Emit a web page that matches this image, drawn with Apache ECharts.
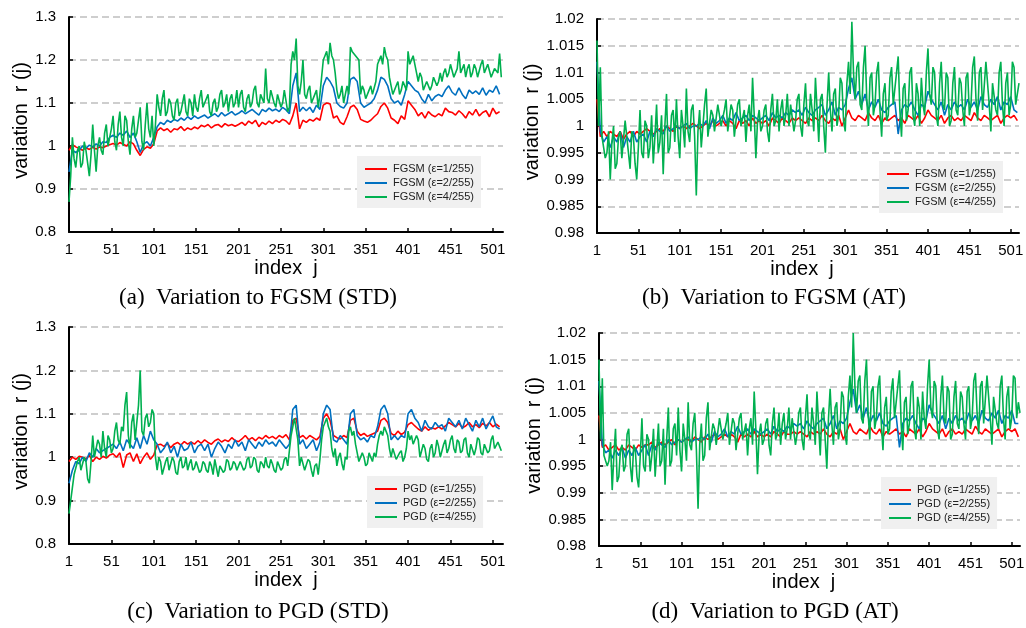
<!DOCTYPE html>
<html><head><meta charset="utf-8">
<script src="https://cdn.jsdelivr.net/npm/echarts@6/dist/echarts.min.js"></script>
<style>html,body{margin:0;padding:0;background:#fff}#c{width:1026px;height:628px}</style>
</head><body><div id="c"></div><script>
// sample spacing of index j: value k of a series is at j = 1 + k*step
const STEP_SMOOTH = 4;   // red / blue series
const STEP_NOISY = 2;    // green series
const namesFGSM = ['FGSM (ε=1/255)', 'FGSM (ε=2/255)', 'FGSM (ε=4/255)'];
const namesPGD = ['PGD (ε=1/255)', 'PGD (ε=2/255)', 'PGD (ε=4/255)'];
const captions = ['(a)  Variation to FGSM (STD)', '(b)  Variation to FGSM (AT)', '(c)  Variation to PGD (STD)', '(d)  Variation to PGD (AT)'];
const yName = 'variation  r (j)';
const xName = 'index  j';

// (a) FGSM, STD
const fgsmStd1 = [0.99,1.003,0.998,0.994,0.99,0.996,0.992,0.997,0.993,0.998,
0.996,1.0,1.003,1.006,1.002,1.008,1.004,1.0,1.01,1.005,
0.99,0.978,0.992,0.998,0.995,1.005,1.035,1.042,1.036,1.04,
1.032,1.04,1.038,1.045,1.036,1.042,1.038,1.044,1.04,1.048,
1.045,1.05,1.042,1.048,1.05,1.044,1.052,1.047,1.05,1.046,
1.05,1.055,1.048,1.058,1.052,1.06,1.045,1.055,1.05,1.058,
1.052,1.06,1.055,1.062,1.058,1.05,1.07,1.1,1.04,1.06,
1.055,1.062,1.058,1.065,1.06,1.095,1.1,1.098,1.065,1.07,
1.055,1.05,1.068,1.09,1.095,1.085,1.062,1.058,1.055,1.06,
1.068,1.075,1.092,1.1,1.088,1.065,1.06,1.052,1.07,1.062,
1.105,1.095,1.085,1.07,1.078,1.065,1.08,1.072,1.068,1.075,
1.07,1.088,1.08,1.078,1.072,1.082,1.075,1.065,1.08,1.072,
1.085,1.07,1.078,1.082,1.068,1.088,1.075,1.08];
const fgsmStd2 = [0.94,0.99,0.985,0.99,1.0,0.995,1.002,0.998,1.005,1.0,
1.01,1.008,1.02,1.025,1.02,1.03,1.025,1.035,1.02,1.03,
1.01,0.985,1.005,1.01,1.0,1.02,1.045,1.055,1.05,1.06,
1.055,1.062,1.058,1.065,1.06,1.068,1.062,1.07,1.064,1.068,
1.072,1.065,1.07,1.075,1.068,1.078,1.07,1.075,1.08,1.072,
1.076,1.082,1.075,1.08,1.085,1.078,1.072,1.085,1.08,1.088,
1.082,1.086,1.08,1.09,1.084,1.075,1.14,1.17,1.08,1.09,
1.082,1.09,1.078,1.095,1.085,1.14,1.16,1.15,1.135,1.1,
1.092,1.088,1.1,1.155,1.16,1.15,1.1,1.09,1.095,1.1,
1.11,1.13,1.16,1.155,1.14,1.11,1.1,1.105,1.095,1.12,
1.15,1.14,1.13,1.125,1.11,1.1,1.12,1.105,1.115,1.12,
1.115,1.13,1.14,1.125,1.118,1.135,1.12,1.11,1.13,1.122,
1.128,1.12,1.135,1.118,1.13,1.125,1.14,1.12];
const fgsmStd4 = [0.87,0.93,1.02,0.97,0.95,0.99,1.0,0.95,0.96,1.01,0.99,0.96,0.93,0.98,1.05,0.99,0.94,1.0,1.02,0.99,
0.98,1.03,1.05,1.0,1.0,1.04,1.07,1.01,0.99,1.05,1.08,1.02,1.0,1.07,1.06,1.01,0.98,1.04,1.07,1.02,
1.03,1.06,1.09,1.01,0.99,1.05,1.1,1.04,1.02,1.07,1.0,1.05,1.12,1.09,1.07,1.11,1.13,1.07,1.08,1.11,
1.1,1.07,1.06,1.1,1.11,1.07,1.08,1.1,1.12,1.08,1.07,1.11,1.1,1.07,1.12,1.09,1.08,1.11,1.13,1.09,
1.09,1.11,1.12,1.08,1.07,1.1,1.11,1.08,1.09,1.12,1.13,1.09,1.1,1.12,1.08,1.11,1.12,1.09,1.1,1.13,
1.09,1.12,1.13,1.09,1.08,1.11,1.12,1.09,1.1,1.13,1.14,1.1,1.09,1.12,1.12,1.1,1.18,1.11,1.1,1.13,
1.13,1.1,1.09,1.12,1.12,1.09,1.1,1.13,1.13,1.08,1.09,1.19,1.22,1.2,1.25,1.14,1.12,1.15,1.2,1.12,
1.11,1.13,1.14,1.1,1.1,1.12,1.13,1.09,1.12,1.16,1.2,1.21,1.22,1.19,1.24,1.21,1.2,1.17,1.13,1.11,
1.12,1.14,1.1,1.12,1.14,1.12,1.23,1.22,1.22,1.21,1.21,1.2,1.12,1.14,1.13,1.11,1.11,1.13,1.14,1.12,
1.12,1.15,1.19,1.2,1.21,1.19,1.23,1.21,1.2,1.16,1.14,1.12,1.12,1.14,1.15,1.12,1.13,1.15,1.14,1.13,
1.22,1.19,1.2,1.21,1.19,1.17,1.15,1.17,1.16,1.13,1.13,1.15,1.15,1.13,1.14,1.16,1.16,1.14,1.15,1.17,
1.15,1.17,1.18,1.16,1.17,1.19,1.19,1.16,1.16,1.18,1.22,1.17,1.17,1.19,1.16,1.18,1.19,1.16,1.17,1.19,
1.18,1.16,1.16,1.19,1.2,1.17,1.17,1.19,1.19,1.16,1.16,1.18,1.18,1.17,1.215,1.16];

// (b) FGSM, AT
const fgsmAt1 = [1.005,0.998,0.999,0.998,0.999,0.9985,0.998,0.999,0.9975,0.9985,
0.999,0.998,0.999,0.9985,0.999,0.9995,0.999,0.9985,0.999,0.9995,
0.999,1.0,0.9995,0.999,1.0,0.9995,1.0,0.9995,1.0,1.0005,
1.0,0.9995,1.0,1.0005,1.0,1.001,1.0,1.0005,1.001,1.0,
1.001,1.0005,0.9995,1.001,1.0005,1.001,1.0,1.0015,1.0005,1.001,
1.0005,1.001,1.0,1.0015,1.001,1.0005,1.0015,1.001,1.0005,1.0015,
1.001,1.0015,1.001,1.0005,1.0015,1.001,1.0015,1.001,1.002,1.001,
1.0005,1.0015,1.001,1.002,1.0,1.0015,1.003,1.0015,1.001,1.002,
1.0015,1.001,1.0025,1.0015,1.001,1.002,1.0005,1.0015,1.001,1.0015,
1.002,1.001,1.0015,1.0005,1.002,1.0015,1.001,1.002,1.0005,1.0015,
1.003,1.002,1.0015,1.001,1.002,1.0005,1.0015,1.002,1.001,1.0015,
1.001,1.002,1.0015,1.001,1.0025,1.0015,1.001,1.002,1.0015,1.001,
1.0015,1.002,1.0005,1.0015,1.002,1.0015,1.002,1.001];
const fgsmAt2 = [1.012,0.999,0.997,0.998,0.996,0.998,0.997,0.999,0.996,0.998,
0.997,0.999,0.997,0.998,0.9985,0.997,0.999,0.998,0.9995,0.999,
0.9985,1.0,0.999,0.9995,1.0,0.9995,1.0,1.0005,0.9995,1.0,
1.0,1.0005,1.0,1.001,0.9995,1.0015,1.0005,1.001,1.002,1.0005,
1.0015,1.001,1.0025,1.001,1.0015,1.002,1.001,1.002,1.0015,1.001,
1.0015,1.002,1.001,1.0025,1.0015,1.002,1.0015,1.0025,1.002,1.003,
1.0025,1.003,1.002,1.0035,1.0025,1.002,1.003,1.0035,1.004,1.002,
1.003,1.0045,1.002,1.0035,1.003,1.004,1.007,1.009,1.005,1.0065,
1.004,1.006,1.003,1.0045,1.0035,1.005,1.003,1.0025,1.0035,1.004,
1.0045,0.9985,1.003,1.004,1.0035,1.0045,1.003,1.002,1.004,1.0035,
1.0065,1.005,1.004,1.003,1.0045,1.002,1.004,1.003,1.0045,1.0035,
1.004,1.003,1.005,1.0035,1.0045,1.003,1.0055,1.004,1.0035,1.005,
1.004,1.0055,1.003,1.0045,1.004,1.0055,1.003,1.0025];
const fgsmAt4 = [1.016,1.0,1.011,0.998,0.998,0.994,0.995,0.999,0.99,0.997,1.0,0.992,0.993,0.998,0.999,0.994,0.994,1.001,1.001,0.995,
0.992,0.999,0.998,0.993,0.99,0.996,1.003,0.995,0.994,1.001,1.0,0.994,0.996,1.002,0.993,0.998,1.004,0.995,0.997,1.002,
0.991,1.0,1.006,0.995,0.996,1.002,1.003,0.997,1.005,0.998,0.994,1.003,1.0,0.996,1.007,0.999,0.997,1.003,1.004,0.998,
0.987,0.999,1.003,0.996,0.996,1.004,1.007,0.998,0.998,1.003,1.002,0.999,0.999,1.004,1.004,1.0,1.0,1.003,1.005,0.999,
0.999,1.004,1.003,0.998,0.998,1.004,1.005,1.0,1.0,1.003,0.997,1.002,1.004,0.999,1.009,1.002,0.994,1.001,1.003,0.999,
1.0,1.003,1.004,0.999,0.997,1.003,1.006,1.0,1.001,1.005,0.999,1.003,1.005,1.0,1.002,1.006,1.0,1.004,1.004,0.999,
1.001,1.005,1.006,1.0,0.998,1.004,1.008,1.001,1.0,1.006,1.003,0.999,1.009,1.003,0.997,1.005,1.006,1.0,0.995,1.004,
1.01,1.003,0.999,1.006,1.007,1.0,1.002,1.009,1.008,1.001,0.999,1.008,1.012,1.006,1.0195,1.01,1.005,1.011,1.012,1.004,
1.003,1.011,1.015,1.005,1.0,1.009,1.01,1.002,1.004,1.01,1.012,1.003,0.998,1.006,1.008,1.001,1.002,1.009,1.011,1.004,
1.004,1.01,1.013,1.003,0.998,1.007,1.008,1.001,1.003,1.01,1.011,1.002,1.0,1.008,1.006,1.0,1.009,1.004,1.002,1.01,
1.0145,1.006,1.004,1.011,1.01,1.002,1.0,1.008,1.012,1.004,1.003,1.01,1.009,1.0,1.001,1.008,1.011,1.003,1.002,1.009,
1.008,1.003,1.0,1.009,1.01,1.002,1.004,1.011,1.013,1.005,1.001,1.01,1.011,1.003,1.003,1.012,1.012,1.004,0.999,1.008,
1.008,1.003,1.002,1.01,1.012,1.004,1.0,1.008,1.01,1.002,1.004,1.012,1.011,1.004,1.006,1.008];

// (c) PGD, STD
const pgdStd1 = [0.99,1.0,0.995,1.002,1.0,0.996,1.004,0.99,1.0,0.995,
1.002,0.998,1.005,1.008,1.0,1.01,0.976,1.005,1.01,0.99,
1.008,0.985,1.0,1.01,0.995,1.005,1.028,1.03,1.025,1.032,
1.022,1.03,1.034,1.028,1.036,1.03,1.035,1.03,1.038,1.032,
1.04,1.034,1.03,1.038,1.042,1.035,1.04,1.036,1.045,1.038,
1.036,1.042,1.05,1.04,1.045,1.038,1.046,1.042,1.05,1.044,
1.048,1.042,1.05,1.045,1.052,1.04,1.085,1.09,1.045,1.05,
1.042,1.05,1.045,1.04,1.048,1.09,1.1,1.085,1.05,1.045,
1.042,1.05,1.045,1.085,1.09,1.06,1.05,1.055,1.048,1.052,
1.055,1.06,1.085,1.09,1.08,1.055,1.05,1.06,1.052,1.058,
1.075,1.08,1.072,1.065,1.06,1.07,1.062,1.068,1.065,1.07,
1.065,1.072,1.08,1.075,1.07,1.078,1.068,1.072,1.08,1.07,
1.075,1.068,1.078,1.072,1.08,1.07,1.076,1.07];
const pgdStd2 = [0.94,0.97,0.99,0.985,1.0,0.99,1.01,1.0,1.02,1.01,
1.015,1.02,1.025,1.03,1.02,1.035,1.015,1.04,1.03,1.02,
1.045,1.02,1.05,1.03,1.06,1.04,1.03,1.01,1.02,1.035,
1.01,1.025,1.0,1.03,1.015,1.02,1.035,1.01,1.025,1.03,
1.015,1.03,1.0,1.02,1.035,1.025,1.01,1.03,1.02,1.04,
1.025,1.035,1.015,1.04,1.03,1.02,1.035,1.025,1.04,1.03,
1.035,1.025,1.04,1.03,1.02,1.03,1.11,1.12,1.03,1.04,
1.02,1.03,1.04,1.015,1.035,1.1,1.12,1.11,1.04,1.035,
1.05,1.04,1.03,1.1,1.11,1.05,1.04,1.045,1.035,1.05,
1.045,1.07,1.11,1.12,1.1,1.04,1.05,1.04,1.05,1.045,
1.1,1.11,1.09,1.08,1.06,1.085,1.07,1.065,1.08,1.07,
1.075,1.06,1.09,1.08,1.07,1.085,1.065,1.09,1.075,1.06,
1.085,1.07,1.09,1.065,1.08,1.095,1.07,1.065];
const pgdStd4 = [0.87,0.9,0.93,0.96,0.96,0.99,1.0,0.97,0.97,1.0,0.99,0.95,0.94,0.99,1.05,1.0,1.0,1.04,1.03,1.0,
1.06,1.02,1.0,1.05,1.04,1.01,1.02,1.06,1.08,1.04,1.03,1.07,1.06,1.12,1.15,1.05,1.02,1.08,1.1,1.04,
1.04,1.12,1.2,1.06,1.05,1.09,1.1,1.07,1.08,1.11,1.1,1.0,0.97,1.0,0.99,0.96,0.96,0.99,1.0,0.97,
0.97,1.0,0.99,0.965,0.96,0.99,1.0,0.975,0.98,1.0,0.97,0.985,0.995,0.97,0.975,0.99,0.99,0.965,0.97,0.99,
0.985,0.97,0.965,0.99,0.98,0.96,0.995,0.975,0.955,0.98,0.98,0.965,0.97,0.995,0.99,0.97,0.975,0.99,0.985,0.97,
0.97,0.99,0.99,0.97,0.975,0.995,1.0,0.975,0.98,1.0,0.995,0.97,0.965,0.99,0.985,0.975,1.0,0.98,0.975,0.995,
0.985,0.97,0.965,0.99,0.99,0.97,0.975,0.995,1.0,0.98,0.98,1.05,1.07,1.09,1.09,1.04,0.98,1.0,1.0,0.97,
0.97,0.995,0.99,0.97,0.955,0.98,0.985,0.96,0.995,1.04,1.07,1.08,1.09,1.07,1.06,1.02,1.0,1.02,0.98,1.0,
1.01,0.985,0.97,1.0,0.995,1.06,1.07,1.05,1.06,1.03,1.01,0.99,0.99,1.01,1.0,0.98,0.985,1.01,1.0,0.99,
1.01,1.0,1.03,1.05,1.06,1.05,1.07,1.06,1.05,1.02,1.0,1.02,1.02,0.995,0.995,1.01,1.015,0.99,1.0,1.02,
1.06,1.04,1.05,1.03,1.03,1.05,1.04,1.0,1.0,1.03,1.02,0.995,0.99,1.02,1.03,1.0,1.01,1.04,1.025,1.0,
1.0,1.03,1.04,1.01,1.02,1.04,1.05,1.02,1.01,1.04,1.035,1.01,1.015,1.04,1.045,1.01,1.0,1.03,1.03,1.005,
1.02,1.045,1.04,1.01,1.005,1.03,1.03,1.01,1.015,1.04,1.05,1.02,1.02,1.035,1.025,1.015];

// (d) PGD, AT
const pgdAt1 = [1.0045,0.9985,0.999,0.998,0.9985,0.999,0.998,0.9985,0.998,0.999,
0.9985,0.998,0.999,0.9985,0.999,0.999,0.9995,0.9985,0.999,0.9995,
0.999,0.9995,1.0,0.999,1.0,0.9995,1.0,1.0,0.9995,1.0005,
1.0,0.9995,1.0005,1.0,1.0005,1.001,1.0,1.0005,1.001,1.0005,
1.001,1.0005,0.9995,1.001,1.0005,1.001,1.0005,1.0015,1.0005,1.001,
1.0005,1.001,1.0005,1.0015,1.001,1.0005,1.0015,1.001,1.001,1.0015,
1.001,1.0015,1.001,1.0005,1.0015,1.001,1.0015,1.001,1.002,1.001,
1.0005,1.0015,1.001,1.002,1.0,1.0015,1.003,1.0015,1.001,1.002,
1.0015,1.001,1.0025,1.0015,1.001,1.002,1.0005,1.0015,1.001,1.0015,
1.002,1.001,1.0015,1.0005,1.002,1.0015,1.001,1.002,1.0005,1.0015,
1.003,1.002,1.0015,1.001,1.002,1.0005,1.0015,1.002,1.001,1.0015,
1.001,1.002,1.0015,1.001,1.0025,1.0015,1.001,1.002,1.0015,1.001,
1.0015,1.002,1.0005,1.0015,1.002,1.0015,1.002,1.0005];
const pgdAt2 = [1.011,0.999,0.9975,0.998,0.9965,0.998,0.997,0.9985,0.9965,0.998,
0.997,0.9985,0.997,0.998,0.999,0.997,0.999,0.998,0.9995,0.999,
0.9985,1.0,0.999,0.9995,1.0,0.9995,1.0,1.0005,0.9995,1.0,
1.0,1.0005,1.0,1.001,0.9995,1.0015,1.0005,1.001,1.002,1.0005,
1.0015,1.001,1.0025,1.001,1.0015,1.002,1.001,1.002,1.0015,1.001,
1.0015,1.002,1.001,1.0025,1.0015,1.002,1.0015,1.0025,1.002,1.003,
1.0025,1.003,1.002,1.0035,1.0025,1.002,1.003,1.0035,1.004,1.002,
1.003,1.0045,1.002,1.0035,1.003,1.004,1.007,1.0095,1.005,1.0065,
1.004,1.006,1.003,1.0045,1.0035,1.005,1.003,1.0025,1.0035,1.004,
1.0045,0.9985,1.003,1.004,1.0035,1.0045,1.003,1.002,1.004,1.0035,
1.0065,1.005,1.004,1.003,1.0045,1.002,1.004,1.003,1.0045,1.0035,
1.004,1.003,1.005,1.0035,1.0045,1.003,1.0055,1.004,1.0035,1.005,
1.004,1.0055,1.003,1.0045,1.004,1.0055,1.003,1.003];
const pgdAt4 = [1.015,1.0,1.0115,0.997,0.997,0.995,0.996,0.9995,0.9905,0.997,1.002,0.992,0.993,0.998,0.999,0.994,0.995,1.001,1.002,0.995,
0.992,0.999,0.998,0.993,0.991,0.997,1.004,0.995,0.994,1.001,1.0,0.994,0.997,1.002,0.993,0.998,1.003,0.995,0.996,1.002,
0.9915,1.0,1.006,0.995,0.996,1.002,1.003,0.997,1.006,0.998,0.994,1.003,1.0,0.996,1.007,0.999,0.998,1.003,1.005,0.998,
0.987,0.999,1.003,0.996,0.997,1.004,1.007,0.998,0.998,1.003,1.002,0.999,0.999,1.004,1.004,1.0,1.0,1.003,1.005,0.999,
0.999,1.004,1.003,0.998,0.998,1.004,1.005,1.0,1.0,1.003,0.997,1.002,1.004,0.999,1.009,1.002,0.9935,1.001,1.003,0.999,
1.0,1.003,1.004,0.999,0.997,1.003,1.006,1.0,1.001,1.005,0.999,1.003,1.005,1.0,1.002,1.006,1.0,1.004,1.004,0.999,
1.001,1.005,1.006,1.0,0.998,1.004,1.0085,1.001,1.0,1.006,1.003,0.999,1.009,1.003,0.997,1.005,1.006,1.0,0.9945,1.004,
1.0095,1.003,0.999,1.006,1.007,1.0,1.002,1.009,1.008,1.001,0.999,1.008,1.012,1.006,1.02,1.01,1.005,1.011,1.012,1.004,
1.003,1.011,1.015,1.005,1.0,1.009,1.01,1.002,1.004,1.01,1.012,1.003,0.998,1.006,1.008,1.001,1.002,1.009,1.0115,1.004,
1.004,1.01,1.013,1.003,0.998,1.007,1.008,1.001,1.003,1.01,1.011,1.002,1.0,1.008,1.006,1.0,1.009,1.004,1.002,1.01,
1.015,1.006,1.004,1.011,1.01,1.002,1.0,1.008,1.012,1.004,1.003,1.01,1.009,1.0,1.001,1.008,1.011,1.003,1.002,1.009,
1.008,1.003,1.0,1.009,1.01,1.002,1.004,1.011,1.0125,1.005,1.001,1.01,1.011,1.003,1.003,1.012,1.012,1.004,0.999,1.008,
1.008,1.003,1.002,1.01,1.012,1.004,1.0,1.008,1.01,1.002,1.004,1.012,1.0115,1.004,1.007,1.005];

const colors = ['#ff0000', '#0070c0', '#00b050'];
const steps = [STEP_SMOOTH, STEP_SMOOTH, STEP_NOISY];
const panels = [
  {names: namesFGSM, data: [fgsmStd1, fgsmStd2, fgsmStd4], grid: {left: 69, top: 17, width: 434, height: 215}, xMax: 512, yMin: 0.8, yMax: 1.3, yInt: 0.1, nameGap: 38, legend: {left: 357, top: 156}, cap: [258, 298], xPad: [0,0,0,0]},
  {names: namesFGSM, data: [fgsmAt1, fgsmAt2, fgsmAt4], grid: {left: 597, top: 19, width: 422, height: 214}, xMax: 510, yMin: 0.98, yMax: 1.02, yInt: 0.005, nameGap: 48, legend: {left: 879, top: 161}, cap: [774, 298], xPad: [0,12,0,0]},
  {names: namesPGD, data: [pgdStd1, pgdStd2, pgdStd4], grid: {left: 69, top: 327, width: 434, height: 217}, xMax: 512, yMin: 0.8, yMax: 1.3, yInt: 0.1, nameGap: 38, legend: {left: 367, top: 476}, cap: [258, 612], xPad: [0,0,0,0]},
  {names: namesPGD, data: [pgdAt1, pgdAt2, pgdAt4], grid: {left: 599, top: 333, width: 421, height: 213}, xMax: 510, yMin: 0.98, yMax: 1.02, yInt: 0.005, nameGap: 49, legend: {left: 881, top: 477}, cap: [775, 612], xPad: [0,12,0,0]}
];

const axisFont = 'Liberation Sans';
const option = {animation: false, grid: [], xAxis: [], yAxis: [], series: [], legend: [], graphic: []};
panels.forEach((p, gi) => {
  option.grid.push(Object.assign({outerBoundsMode: 'none', containLabel: false}, p.grid));
  option.xAxis.push({
    type: 'value', gridIndex: gi, min: 0, max: p.xMax, interval: 50,
    name: xName, nameLocation: 'middle', nameGap: 26,
    nameTextStyle: {fontFamily: axisFont, fontSize: 20, color: '#000', padding: p.xPad},
    axisLine: {show: true, lineStyle: {color: '#000', width: 2}},
    axisTick: {show: true, inside: true, length: 4, lineStyle: {color: '#000', width: 1.5}},
    axisLabel: {fontFamily: axisFont, fontSize: 15, color: '#000', margin: 10, showMaxLabel: false, formatter: v => String(v + 1)},
    splitLine: {show: false}
  });
  option.yAxis.push({
    type: 'value', gridIndex: gi, min: p.yMin, max: p.yMax, interval: p.yInt,
    name: yName, nameLocation: 'middle', nameGap: p.nameGap,
    nameTextStyle: {fontFamily: axisFont, fontSize: 20, color: '#000', padding: [0, 0, 0, 8]},
    axisLine: {show: true, lineStyle: {color: '#000', width: 2}},
    axisTick: {show: true, inside: true, length: 4, lineStyle: {color: '#000', width: 1.5}},
    axisLabel: {fontFamily: axisFont, fontSize: 15, color: '#000', margin: 13},
    splitLine: {show: true, lineStyle: {color: '#bfbfbf', width: 1.5, type: [7, 4]}}
  });
  p.names.forEach((nm, si) => {
    option.series.push({
      type: 'line', name: nm, xAxisIndex: gi, yAxisIndex: gi, symbol: 'none',
      lineStyle: {color: colors[si], width: 1.6}, itemStyle: {color: colors[si]},
      z: 2 + si,
      data: p.data[si].map((v, k) => [k * steps[si], v])
    });
  });
  option.legend.push({
    data: p.names, orient: 'vertical', left: p.legend.left, top: p.legend.top,
    backgroundColor: '#f0f0f0', padding: [6, 7, 4, 8],
    icon: 'rect', itemWidth: 22, itemHeight: 2, itemGap: 0,
    textStyle: {fontFamily: axisFont, fontSize: 11, color: '#222', lineHeight: 14, padding: [0, 0, 0, 1]},
    selectedMode: false
  });
  option.graphic.push({
    type: 'text', x: p.cap[0], y: p.cap[1],
    style: {text: captions[gi], font: '23px "Liberation Serif"', fill: '#000', textAlign: 'center', textVerticalAlign: 'middle'}
  });
});
const chart = echarts.init(document.getElementById('c'), null, {renderer: 'canvas'});
chart.setOption(option);
</script></body></html>
